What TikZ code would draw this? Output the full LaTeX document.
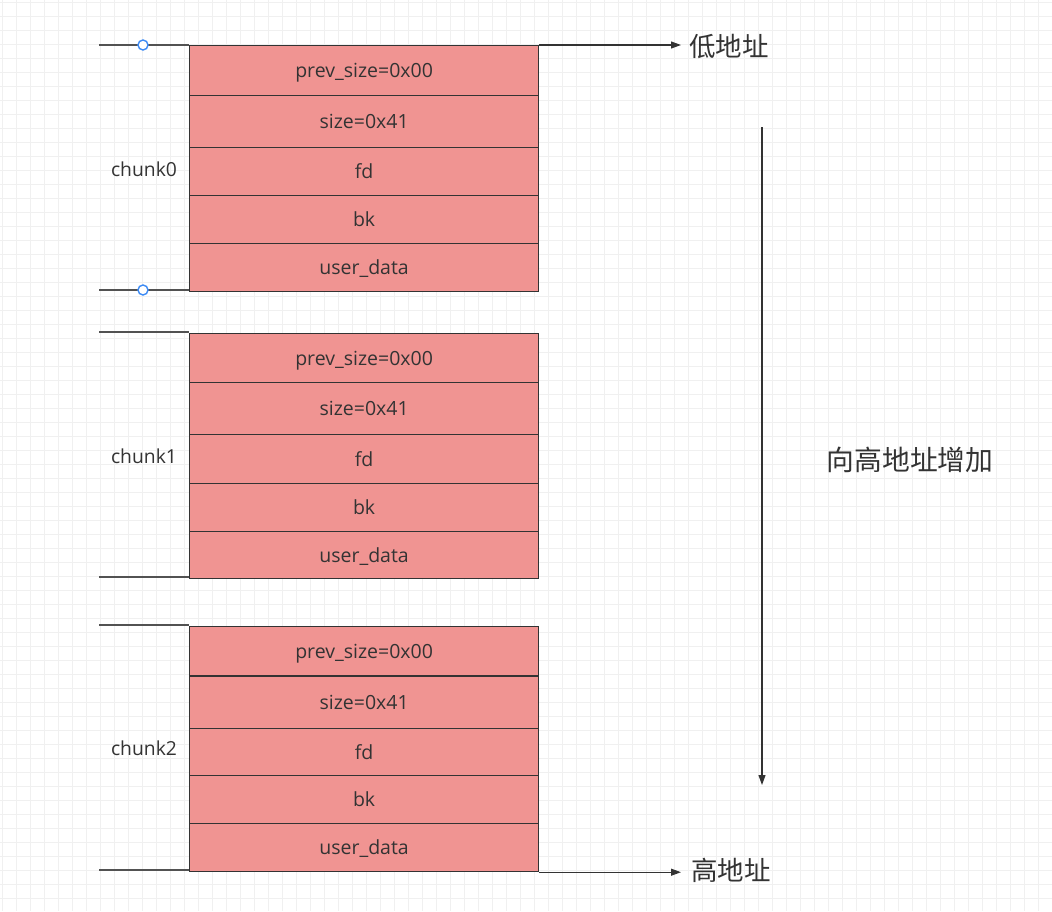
\documentclass[tikz,border=0pt]{standalone}
\usepackage{fontspec}
\setmainfont{Noto Sans CJK SC}
\newfontfamily\latinfont{Open Sans}
\usetikzlibrary{arrows.meta}
\definecolor{cellfill}{HTML}{F09492}
\definecolor{ink}{HTML}{333333}
\definecolor{gridc}{HTML}{F0F0F0}
\definecolor{handleblue}{HTML}{3D8BF5}
\tikzset{
  cell/.style={draw=ink, fill=cellfill, line width=1.2pt, minimum width=349pt, inner sep=0pt, anchor=north west, text=ink, text height=14.5pt, text depth=0pt, font=\latinfont\fontsize{19.5}{19.5}\selectfont},
  bracketline/.style={draw=ink!85, line width=1.2pt},
  chunklabel/.style={text=ink, font=\latinfont\fontsize{19.3}{19.3}\selectfont, inner sep=0pt},
  addrlabel/.style={text=ink, font=\fontsize{26.5}{26.5}\selectfont, inner sep=0pt, anchor=west},
  arr/.style={draw=ink, line width=1.1pt, -{Triangle[length=10pt,width=7pt]}},
  handle/.style={circle, draw=handleblue, fill=white, line width=1.4pt, minimum size=10pt, inner sep=0pt}
}
\begin{document}
\begin{tikzpicture}[x=1pt,y=-1pt]
\useasboundingbox (0,0) rectangle (1052,911);
\fill[white] (0,0) rectangle (1052,911);
% grid
\foreach \gx in {0,...,75} {\draw[gridc, line width=1pt] ({2+14*\gx},0) -- ({2+14*\gx},911);}
\foreach \gy in {0,...,65} {\draw[gridc, line width=1pt] (0,{2+14*\gy}) -- (1052,{2+14*\gy});}

% chunk0
\node[cell, minimum height=50pt] (c0r1) at (189,45) {prev\_size=0x00};
\node[cell, minimum height=52pt] (c0r2) at (189,95) {size=0x41};
\node[cell, minimum height=48pt] (c0r3) at (189,147) {fd};
\node[cell, minimum height=48pt] (c0r4) at (189,195) {bk};
\node[cell, minimum height=48pt] (c0r5) at (189,243) {user\_data};
% chunk1
\node[cell, minimum height=49pt] (c1r1) at (189,333) {prev\_size=0x00};
\node[cell, minimum height=52pt] (c1r2) at (189,382) {size=0x41};
\node[cell, minimum height=49pt] (c1r3) at (189,434) {fd};
\node[cell, minimum height=48pt] (c1r4) at (189,483) {bk};
\node[cell, minimum height=47pt] (c1r5) at (189,531) {user\_data};
% chunk2
\node[cell, minimum height=49pt] (c2r1) at (189,626) {prev\_size=0x00};
\node[cell, minimum height=52pt] (c2r2) at (189,676) {size=0x41};
\node[cell, minimum height=47pt] (c2r3) at (189,728) {fd};
\node[cell, minimum height=48pt] (c2r4) at (189,775) {bk};
\node[cell, minimum height=48pt] (c2r5) at (189,823) {user\_data};

% brackets
\coordinate (b0t) at (99,45);
\coordinate (b0b) at (99,290);
\coordinate (b1t) at (99,332);
\coordinate (b1b) at (99,577);
\coordinate (b2t) at (99,625);
\coordinate (b2b) at (99,870);
\draw[bracketline] (b0t) -- (b0t -| c0r1.west);
\draw[bracketline] (b0b) -- (b0b -| c0r5.west);
\draw[bracketline] (b1t) -- (b1t -| c1r1.west);
\draw[bracketline] (b1b) -- (b1b -| c1r5.west);
\draw[bracketline] (b2t) -- (b2t -| c2r1.west);
\draw[bracketline] (b2b) -- (b2b -| c2r5.west);
\node[handle] (h0t) at (143,45) {};
\node[handle] (h0b) at (143,290) {};

\node[chunklabel] (k0) at (144,169) {chunk0};
\node[chunklabel] (k1) at (144,456) {chunk1};
\node[chunklabel] (k2) at (144,748) {chunk2};

% address labels and arrows
\node[addrlabel] (lo) at (689,46) {低地址};
\node[addrlabel] (hi) at (691,870) {高地址};
\draw[arr] (c0r1.north east) -- ([xshift=-8pt]lo.west |- c0r1.north east);
\draw[arr] (c2r5.south east) -- ([xshift=-10pt]hi.west |- c2r5.south east);

\coordinate (va) at (762,127);
\coordinate (vb) at (762,785);
\draw[arr] (va) -- (vb);
\node[text=ink, font=\fontsize{27.8}{27.8}\selectfont, inner sep=0pt] (grow) at (910,460) {向高地址增加};
\end{tikzpicture}
\end{document}
